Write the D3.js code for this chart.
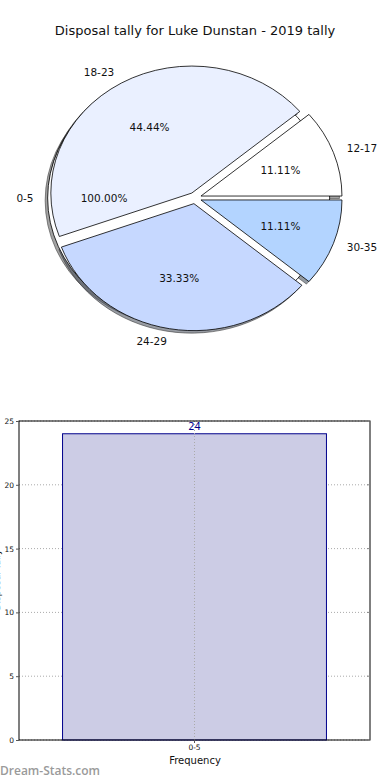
<!DOCTYPE html>
<html>
<head>
<meta charset="utf-8">
<script src="https://cdn.jsdelivr.net/npm/d3@7"></script>
<style>
  body { margin: 0; background: #fff; }
  svg { display: block; font-family: "DejaVu Sans", sans-serif; }
</style>
</head>
<body>
<svg id="chart" width="390" height="780"></svg>
<script>
// pie data: first pie is the lone 0-5 bucket, second is the rest
var fullLabels = ["0-5"];
var fullValues = [1];
var fullPct = ["100.00%"];

var pieLabels = ["12-17", "18-23", "24-29", "30-35"];
var pieValues = [1, 4, 3, 1];
var piePct = ["11.11%", "44.44%", "33.33%", "11.11%"];
var pieColors = ["#ffffff", "#eaf0ff", "#c6d8ff", "#b3d4ff"];

// bar data
var barCats = ["0-5"];
var barValues = [24];
var yTicks = [0, 5, 10, 15, 20, 25];

var svg = d3.select("#chart");

svg.append("text")
  .attr("x", 195).attr("y", 35)
  .attr("text-anchor", "middle")
  .attr("font-size", 13)
  .attr("fill", "#111")
  .text("Disposal tally for Luke Dunstan - 2019 tally");

// ---- pie (elliptical, matplotlib style) ----
var cx = 195, cy = 198, rx = 141, ry = 127, explode = 0.045;
var R = 100;
var arc = d3.arc().innerRadius(0).outerRadius(R);
var pie = d3.pie().sort(null).value(function (d) { return d; })
  .startAngle(Math.PI / 2).endAngle(Math.PI / 2 - 2 * Math.PI);

var fullArcs = pie(fullValues);
var mainArcs = pie(pieValues);

function mid(d) { return (d.startAngle + d.endAngle) / 2; }
function offX(d, k) { return cx + k * rx * Math.sin(mid(d)); }
function offY(d, k) { return cy - k * ry * Math.cos(mid(d)); }
function wedgeTransform(d, dx, dy) {
  return "translate(" + (offX(d, explode) + dx) + "," + (offY(d, explode) + dy) + ") scale(" + (rx / R) + "," + (ry / R) + ")";
}

var pieG = svg.append("g");
var allArcs = fullArcs.map(function (d) { d.color = "#ffffff"; return d; })
  .concat(mainArcs.map(function (d, i) { d.color = pieColors[i]; return d; }));

// shadows under everything
pieG.selectAll("path.shadow")
  .data(allArcs)
  .enter().append("path")
  .attr("class", "shadow")
  .attr("d", arc)
  .attr("transform", function (d) { return wedgeTransform(d, -2.5, 2.5); })
  .attr("fill", function (d) { return d3.color(d.color).darker(3).formatHex(); })
  .attr("fill-opacity", 0.55)
  .attr("stroke", "#333")
  .attr("stroke-opacity", 0.55)
  .attr("vector-effect", "non-scaling-stroke");

pieG.selectAll("path.wedge")
  .data(allArcs)
  .enter().append("path")
  .attr("class", "wedge")
  .attr("d", arc)
  .attr("transform", function (d) { return wedgeTransform(d, 0, 0); })
  .attr("fill", function (d) { return d.color; })
  .attr("stroke", "#000")
  .attr("stroke-width", 0.8)
  .attr("vector-effect", "non-scaling-stroke");

function addLabels(arcs, labels, pcts) {
  arcs.forEach(function (d, i) {
    var lx = offX(d, explode + 1.1), ly = offY(d, explode + 1.1);
    pieG.append("text")
      .attr("x", lx).attr("y", ly)
      .attr("dy", "0.35em")
      .attr("text-anchor", Math.sin(mid(d)) < 0 ? "end" : "start")
      .attr("font-size", 10.5)
      .attr("fill", "#111")
      .text(labels[i]);
    pieG.append("text")
      .attr("x", offX(d, explode + 0.6)).attr("y", offY(d, explode + 0.6))
      .attr("dy", "0.35em")
      .attr("text-anchor", "middle")
      .attr("font-size", 10.5)
      .attr("fill", "#111")
      .text(pcts[i]);
  });
}
addLabels(fullArcs, fullLabels, fullPct);
addLabels(mainArcs, pieLabels, piePct);

// ---- bar chart ----
var m = { left: 19, right: 370, top: 421, bottom: 740 };
var x = d3.scaleBand().domain(barCats).range([m.left, m.right])
  .paddingInner(0.2).paddingOuter(0.132);
var y = d3.scaleLinear().domain([0, 25]).range([m.bottom, m.top]);

var barG = svg.append("g");

// grid
barG.selectAll("line.hgrid")
  .data(yTicks)
  .enter().append("line")
  .attr("x1", m.left).attr("x2", m.right)
  .attr("y1", function (d) { return y(d); })
  .attr("y2", function (d) { return y(d); })
  .attr("stroke", "#aaa")
  .attr("stroke-dasharray", "1,2");

barG.selectAll("rect.bar")
  .data(barValues)
  .enter().append("rect")
  .attr("x", function (d, i) { return x(barCats[i]); })
  .attr("y", function (d) { return y(d); })
  .attr("width", x.bandwidth())
  .attr("height", function (d) { return y(0) - y(d); })
  .attr("fill", "#ccccE5")
  .attr("stroke", "#00008b")
  .attr("stroke-width", 1);

barG.selectAll("line.vgrid")
  .data(barCats)
  .enter().append("line")
  .attr("x1", function (d) { return x(d) + x.bandwidth() / 2; })
  .attr("x2", function (d) { return x(d) + x.bandwidth() / 2; })
  .attr("y1", m.top).attr("y2", m.bottom)
  .attr("stroke", "#aaa")
  .attr("stroke-dasharray", "1,2");

barG.selectAll("text.val")
  .data(barValues)
  .enter().append("text")
  .attr("x", function (d, i) { return x(barCats[i]) + x.bandwidth() / 2; })
  .attr("y", function (d) { return y(d) - 4; })
  .attr("text-anchor", "middle")
  .attr("font-size", 10)
  .attr("fill", "#00008b")
  .text(function (d) { return d; });

// frame
barG.append("rect")
  .attr("x", m.left).attr("y", m.top)
  .attr("width", m.right - m.left).attr("height", m.bottom - m.top)
  .attr("fill", "none").attr("stroke", "#000").attr("stroke-width", 1);

var yAxis = d3.axisLeft(y).tickValues(yTicks).tickSize(3).tickPadding(2);
barG.append("g")
  .attr("transform", "translate(" + m.left + ",0)")
  .call(yAxis)
  .call(function (g) {
    g.select(".domain").remove();
    g.selectAll("text").attr("font-size", 7.5).attr("font-family", "DejaVu Sans").attr("fill", "#111");
    g.selectAll("line").attr("stroke", "#555");
  });

// inward ticks on the right side
barG.selectAll("line.rtick")
  .data(yTicks)
  .enter().append("line")
  .attr("x1", m.right - 3).attr("x2", m.right)
  .attr("y1", function (d) { return y(d); })
  .attr("y2", function (d) { return y(d); })
  .attr("stroke", "#888");

var xAxis = d3.axisBottom(x).tickSize(3).tickPadding(2);
barG.append("g")
  .attr("transform", "translate(0," + m.bottom + ")")
  .call(xAxis)
  .call(function (g) {
    g.select(".domain").remove();
    g.selectAll("text").attr("font-size", 7.5).attr("font-family", "DejaVu Sans").attr("fill", "#111");
    g.selectAll("line").attr("stroke", "#555");
  });

svg.append("text")
  .attr("x", 195).attr("y", 764)
  .attr("text-anchor", "middle")
  .attr("font-size", 10)
  .attr("fill", "#111")
  .text("Frequency");

// axis title sits mostly off the left edge, as in the reference
svg.append("text")
  .attr("transform", "translate(0,580) rotate(-90)")
  .attr("text-anchor", "middle")
  .attr("font-size", 9)
  .attr("fill", "#111")
  .text("Disposal Tally");

svg.append("text")
  .attr("x", 0).attr("y", 775)
  .attr("font-size", 12)
  .attr("font-weight", 600)
  .attr("fill", "#9a9a9a")
  .attr("font-family", "Open Sans, sans-serif")
  .text("Dream-Stats.com");
</script>
</body>
</html>
